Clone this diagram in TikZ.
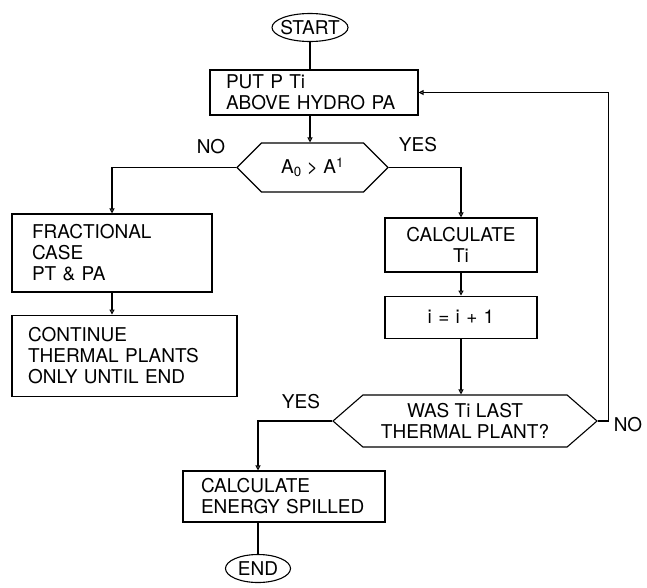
\documentclass[tikz,border=0pt]{standalone}
\usepackage{fontspec}
\setmainfont{TeX Gyre Heros}
\usetikzlibrary{arrows.meta, positioning, shapes.geometric, shapes.symbols}

\begin{document}
\begin{tikzpicture}[
  x=1pt, y=1pt,
  node distance=22pt,
  every node/.style={font=\fontsize{19}{21}\selectfont},
  >={Triangle[open, length=5pt, width=5pt]},
  arrow/.style={->, line width=1.1pt},
  line/.style={line width=1.1pt},
  box/.style={draw, line width=1.1pt, inner xsep=16pt, inner ysep=3pt},
  term/.style={draw, ellipse, line width=1.1pt, minimum height=28pt,
    inner xsep=-4pt, inner ysep=2pt},
  cond/.style={draw, signal, signal to=west and east, signal pointer angle=90,
    line width=1.1pt, align=center, inner sep=2pt}
]
\useasboundingbox (0,0) rectangle (647,-587);

% Top
\node [term, minimum width=76pt] (start) at (310,-27.5) {START};
\node [box, text width=176pt, align=left, minimum height=45pt] (put) at (314,-92.5) {PUT P Ti\\ABOVE HYDRO PA};
\node [cond, minimum width=151pt, minimum height=49pt] (test1) at (312.5,-167.5) {A\textsubscript{0} > A\textsuperscript{1}};
\node (no1) at (211,-147) {NO};
\node (yes1) at (418,-145) {YES};

% Left branch
\node [box, inner xsep=20pt, text width=160pt, align=left, minimum height=78pt] (frac) at (112,-253) {FRACTIONAL\\CASE\\PT \& PA};
\node [box, text width=193pt, align=left, minimum height=81pt, below=22pt of frac.south west, anchor=north west] (cont) {CONTINUE\\THERMAL PLANTS\\ONLY UNTIL END};

% Right branch
\node [box, inner xsep=8pt, text width=136pt, align=center, minimum height=54pt] (calc) at (461,-245) {CALCULATE\\Ti};
\node [box, inner xsep=8pt, text width=136pt, align=center, minimum height=42pt, below=23pt of calc] (incr) {i = i + 1};
\node [cond, signal pointer angle=82, minimum width=264pt, minimum height=52pt] (test2) at (465,-421) {WAS Ti LAST\\THERMAL PLANT?};
\node (no2) at (628,-425) {NO};
\node (yes2) at (301,-402) {YES};

% Bottom
\node [box, inner xsep=18pt, text width=166pt, align=left, minimum height=51pt] (energy) at (284,-496.5) {CALCULATE\\ENERGY SPILLED};
\node [term, minimum width=65pt] (stop) at (258,-568.5) {END};

\draw[line] (start) -- (start |- put.north);
\draw[arrow] (start |- put.south) -- (start |- test1.north);
\draw[arrow] (test1.west) -| (frac.north);
\draw[arrow] (frac.south) -- (frac.south |- cont.north);
\draw[arrow] (test1.east) -| (calc.north);
\draw[arrow] (calc) -- (incr);
\draw[arrow] (incr.south) -- (incr.south |- test2.north);
\draw[arrow] (test2.east) -- ++(11,0) |- (put.east);
\draw[arrow] (test2.west) -| (energy.north -| stop);
\draw[line] (energy.south -| stop) -- (stop);
\end{tikzpicture}
\end{document}
